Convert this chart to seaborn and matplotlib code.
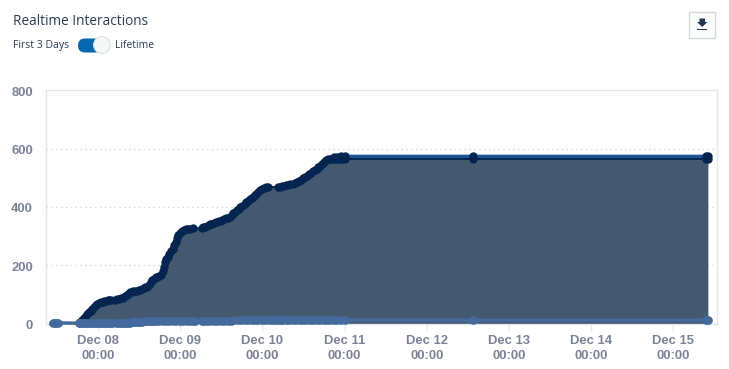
import matplotlib
matplotlib.use("Agg")
import matplotlib.pyplot as plt
import matplotlib.dates as mdates
from matplotlib.patches import FancyBboxPatch, Circle, Rectangle, Polygon
from matplotlib.transforms import ScaledTranslation
import numpy as np
import pandas as pd
import seaborn as sns

TITLE = "Realtime Interactions"
LEFT_LABEL = "First 3 Days"
RIGHT_LABEL = "Lifetime"

# hours after Dec 07 22:50
upper_hours = [-12, -11.5, -11, -10.5,
               -4.5, -4, -3.5, -3, -2.5, -2, -1.5, -1, -.5, 0, .5, 1, 1.5, 2, 2.5, 3, 3.5, 4, 4.5, 5,
               6.2, 6.8, 7.4, 8, 8.5, 9, 9.5, 10, 10.5, 11, 11.5, 12, 12.5, 13, 13.5, 14, 14.5, 15, 15.5, 16, 16.5, 17,
               17.5, 18, 18.5, 19, 19.5, 20, 20.3, 20.7, 21.1, 21.6, 22, 22.5, 23, 23.4, 23.8, 24.2, 24.6, 25, 25.6,
               26.2, 26.8, 27.4, 28, 28.9,
               31.4, 31.9, 32.4, 33, 33.5, 34, 34.5, 35, 35.5, 36, 36.5, 37, 37.5, 38, 38.5, 39, 39.7, 40.2, 40.7,
               41.2, 41.7, 42.2, 42.7, 43.3, 44, 44.5, 45, 45.5, 46, 46.5, 47, 47.4, 47.8, 48.4, 49, 49.5, 50.1, 50.7,
               53.6, 54.2, 54.8, 55.4, 56, 56.6, 57.2, 58, 58.6, 59.2, 59.8, 60.4, 61, 61.6, 62.2, 62.8, 63.4, 64, 64.5,
               65, 65.5, 66, 66.5, 67, 67.6, 68.2, 68.8, 69.4, 70, 70.6, 71.2, 71.8, 72.4, 73.2,
               110.6, 178.6, 179.2]
upper_values = [0, 0, 0, 0,
                2, 6, 12, 18, 24, 31, 38, 44, 50, 56, 62, 67, 71, 73, 75, 77, 78, 80, 81, 82,
                82, 83, 84, 86, 89, 93, 97, 102, 107, 109, 110, 111, 112, 114, 116, 119, 121, 124, 127, 132, 141, 150,
                154, 158, 161, 164, 167, 180, 195, 210, 221, 230, 238, 248, 257, 268, 279, 292, 303, 310, 318,
                321, 323, 325, 326, 327,
                327, 330, 333, 336, 339, 341, 343, 345, 347, 349, 351, 353, 356, 358, 361, 363, 367, 372, 378,
                383, 388, 394, 400, 405, 412, 417, 421, 426, 431, 436, 440, 446, 452, 460, 463, 465, 468, 470,
                467, 469, 471, 473, 475, 476, 478, 480, 483, 486, 490, 494, 498, 503, 508, 513, 518, 523, 528,
                532, 537, 542, 548, 554, 561, 564, 565, 565, 565, 565, 565, 565, 565, 565,
                565, 565, 565]

top_hours = [70, 71, 72, 73.2, 110.6, 178.6, 179.2]
top_values = [572, 573, 574, 574, 574, 574, 574]

lower_hours = [-12, -11.5, -11, -10.5,
               -4.5, -4, -3.5, -3, -2.5, -2, -1.5, -1, -.5, 0, .5, 1, 1.5, 2, 2.5, 3, 3.5, 4, 4.5, 5, 5.2,
               6.5, 7, 7.5, 8, 8.5, 9, 9.5, 10, 10.5, 11, 11.5, 12, 12.5, 13, 13.5, 14, 14.5, 15, 15.5, 16, 16.5, 17,
               17.5, 18, 19, 20, 21, 22, 23, 24, 25, 26, 27, 28, 29, 29.5,
               31.4, 32, 33, 34, 35, 36, 37, 38, 39, 40, 41, 42, 43, 44, 45, 46, 47, 48, 49, 50, 51, 52, 52.7,
               53.8, 54.5, 55, 56, 57, 58, 59, 60, 61, 62, 63, 64, 65, 66, 67, 68, 69, 70, 71, 72, 73.2,
               110.6, 178.6, 179.2]
lower_values = [2, 2, 2, 2,
                1, 1, 1, 1, 1, 1, 1, 1, 1, 1, 1, 2, 2, 2, 2, 2, 2, 2, 2, 2, 2,
                2, 2, 2, 3, 3, 3, 3, 3, 3, 4, 4, 4, 5, 5, 6, 6, 7, 7, 7, 8, 8, 8,
                8, 8, 8, 8, 8, 8, 8, 8, 8, 8, 8, 8, 8, 8,
                8, 8, 9, 9, 9, 10, 10, 10, 10, 10, 11, 11, 11, 11, 11, 11, 11, 11, 11, 11, 11, 11, 11,
                11, 11, 11, 11, 11, 11, 11, 11, 11, 11, 12, 12, 12, 12, 12, 12, 12, 12, 12, 12, 12,
                11, 11, 11]

DARK = "#03254f"
MID = "#1a5596"
FILL = "#44586f"
LOW = "#44699c"
TICK = "#7a8296"
TEXT = "#2b3d55"
EDGE = "#e4e6ea"

sns.set_theme(style="white")
plt.rcParams["font.family"] = ["Liberation Sans", "DejaVu Sans"]

W, H = 729, 369
fig = plt.figure(figsize=(W / 100, H / 100), dpi=100)
ax = fig.add_axes([45.5 / W, 1 - 323.5 / H, (717 - 45.5) / W, (323.5 - 90.5) / H])

t0 = pd.Timestamp("2017-12-08")
base = pd.Timestamp("2017-12-07 22:50")
def stamps(hours):
    return base + pd.to_timedelta(hours, unit="h")

upper = pd.DataFrame({"t": stamps(upper_hours), "v": upper_values})
top = pd.DataFrame({"t": stamps(top_hours), "v": top_values})
lower = pd.DataFrame({"t": stamps(lower_hours), "v": lower_values})

ax.fill_between(upper["t"], 0, upper["v"], color=FILL, lw=0, zorder=2)
sns.lineplot(data=top, x="t", y="v", ax=ax, color=MID, lw=2.4, marker="o", ms=6, mec=DARK, mfc=DARK, mew=0, zorder=3, errorbar=None, estimator=None)
sns.lineplot(data=upper, x="t", y="v", ax=ax, color=DARK, lw=1.5, marker="o", ms=6, mec=DARK, mfc=DARK, mew=0, zorder=4, errorbar=None, estimator=None)
sns.lineplot(data=lower, x="t", y="v", ax=ax, color=LOW, lw=2.5, marker="o", ms=6.2, mec=LOW, mfc=LOW, mew=0, zorder=5, clip_on=False, errorbar=None, estimator=None)

ax.set_xlim(t0 - pd.Timedelta(hours=15.33), t0 + pd.Timedelta(days=7, hours=12.7))
ax.set_ylim(0, 800)
ax.set_xlabel("")
ax.set_ylabel("")
ax.xaxis.set_major_locator(mdates.DayLocator())
ax.xaxis.set_major_formatter(mdates.DateFormatter("%b %d\n%H:%M"))
ax.set_yticks([0, 200, 400, 600, 800])
ax.grid(False)
for v in [200, 400, 600]:
    ax.axhline(v, color="#d5d7db", lw=1, ls=(0, (1, 2.5)), zorder=1)
for s in ax.spines.values():
    s.set_color(EDGE)
    s.set_linewidth(1)
ax.tick_params(axis="x", length=5, width=1, color=EDGE, pad=3.5, bottom=True)
ax.tick_params(axis="y", length=0, pad=9)
for lab in ax.get_xticklabels() + ax.get_yticklabels():
    lab.set_color(TICK)
    lab.set_fontsize(9.4)
    lab.set_fontweight("bold")
    lab.set_linespacing(1.25)
down = ScaledTranslation(0, -1 / 100, fig.dpi_scale_trans)
for lab in ax.get_yticklabels():
    lab.set_transform(lab.get_transform() + down)

# overlay for page furniture in pixel coordinates
ov = fig.add_axes([0, 0, 1, 1], facecolor="none")
ov.set_xlim(0, W)
ov.set_ylim(H, 0)
ov.axis("off")
ov.text(13, 21.5, TITLE, fontsize=9.8, color=TEXT, va="center", ha="left", family=["Open Sans"])
ov.text(13, 45.5, LEFT_LABEL, fontsize=7.6, color=TEXT, va="center", ha="left", family=["Open Sans"])
ov.text(115, 45.5, RIGHT_LABEL, fontsize=7.4, color=TEXT, va="center", ha="left", family=["Open Sans"])
ov.add_patch(FancyBboxPatch((78, 38.5), 24, 14, boxstyle="round,pad=0,rounding_size=7", fc="#0668b0", ec="none"))
ov.add_patch(Circle((102, 45), 8.4, fc="#f6f7f7", ec="#dcdfe2", lw=0.8))
ov.add_patch(Rectangle((689.5, 11.5), 26, 26, fc="#fbfcfc", ec="#d6d9dc", lw=1))
ov.add_patch(Polygon([(699.5, 18.5), (705, 18.5), (705, 22), (707.5, 22), (702.2, 27), (697, 22), (699.5, 22)], fc="#23364f", ec="none"))
ov.add_patch(Rectangle((697.5, 28.5), 10, 1.5, fc="#23364f", ec="none"))

fig.savefig("out.png", dpi=100, facecolor="white")
